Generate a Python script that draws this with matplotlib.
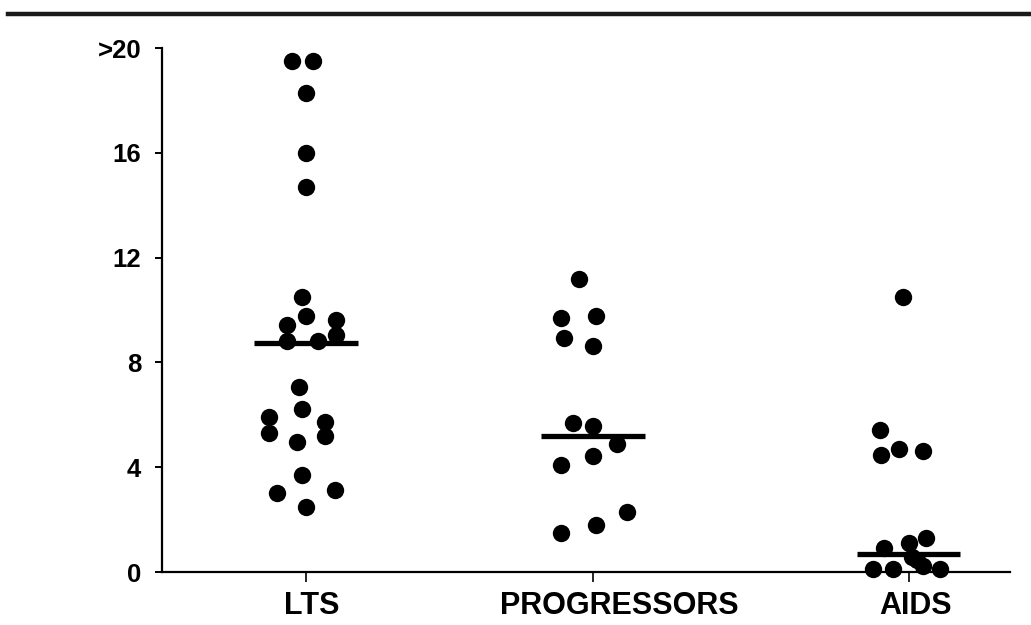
import matplotlib
matplotlib.use("Agg")
import matplotlib.pyplot as plt
import matplotlib.transforms as mtransforms
from matplotlib.lines import Line2D
import numpy as np

plt.rcParams['font.family'] = ['Liberation Sans', 'DejaVu Sans']
plt.rcParams['font.weight'] = 'bold'

# groups and their position along x (spacing in the figure is not even)
categories = ["LTS", "PROGRESSORS", "AIDS"]
cat_pos = [1.0, 2.0, 3.1]

# values, with the horizontal spread of each dot
lts_vals = [19.5, 19.5, 18.3, 16.0, 14.7, 10.5, 9.77, 9.43, 9.6, 8.8, 8.8, 9.05,
            7.06, 6.22, 5.92, 5.3, 5.72, 5.19, 4.96, 3.7, 3.0, 3.13, 2.48]
lts_jit = [-0.05, 0.025, 0.0, 0.0, 0.0, -0.015, 0.0, -0.065, 0.105, -0.065, 0.04, 0.105,
           -0.025, -0.015, -0.13, -0.13, 0.065, 0.065, -0.03, -0.015, -0.1, 0.1, 0.0]

prog_vals = [11.2, 9.7, 9.77, 8.93, 8.63, 5.69, 5.57, 4.89, 4.43, 4.08, 2.29, 1.79, 1.49]
prog_jit = [-0.05, -0.11, 0.01, -0.1, 0.0, -0.07, 0.0, 0.085, 0.0, -0.11, 0.12, 0.01, -0.11]

aids_vals = [10.5, 5.42, 4.47, 4.7, 4.62, 1.3, 1.1, 0.92, 0.57, 0.46, 0.23, 0.1, 0.1, 0.1]
aids_jit = [-0.02, -0.1, -0.095, -0.035, 0.05, 0.06, 0.0, -0.085, 0.01, 0.03, 0.05,
            -0.125, -0.055, 0.11]

medians = [8.74, 5.19, 0.69]

yticks = [0, 4, 8, 12, 16, 20]
ytick_labels = ["0", "4", "8", "12", "16", ">20"]

fig = plt.figure(figsize=(10.31, 6.25), dpi=100)
ax = fig.add_axes([0.1571, 0.0848, 0.8225, 0.8384])

groups = [(lts_vals, lts_jit), (prog_vals, prog_jit), (aids_vals, aids_jit)]
for pos, (vals, jit), med in zip(cat_pos, groups, medians):
    xs = pos + np.array(jit)
    ax.plot(xs, vals, 'o', color='black', markersize=12.5, markeredgewidth=0,
            clip_on=False, zorder=3)
    ax.plot([pos - 0.18, pos + 0.18], [med, med], color='black', linewidth=3.8,
            solid_capstyle='butt', zorder=4, clip_on=False)

ax.set_xlim(0.498, 3.453)
ax.set_ylim(0, 20)
ax.set_xticks(cat_pos)
ax.set_xticklabels([])
ax.set_yticks(yticks)
ax.set_yticklabels(ytick_labels, fontsize=18.5, fontweight='bold')

# category names sit a little right of their ticks in the original
label_shift_px = [6, 26, 7]
base = ax.get_xaxis_transform()
for pos, name, dx in zip(cat_pos, categories, label_shift_px):
    tr = base + mtransforms.ScaledTranslation(dx / 100, -19 / 100, fig.dpi_scale_trans)
    ax.text(pos, 0, name, transform=tr, ha='center', va='top',
            fontsize=22, fontweight='bold', clip_on=False)

for side in ['top', 'right']:
    ax.spines[side].set_visible(False)
for side in ['left', 'bottom']:
    ax.spines[side].set_linewidth(1.6)
ax.tick_params(axis='y', length=5, width=1.4, pad=10, direction='out')
ax.tick_params(axis='x', length=7, width=1.2, direction='out')

# heavy rule across the top of the scanned page
fig.add_artist(Line2D([8 / 1031, 1.0], [0.978, 0.978], color='#1a1a1a',
                      linewidth=3.2, transform=fig.transFigure))

fig.savefig("out.png", dpi=100)
